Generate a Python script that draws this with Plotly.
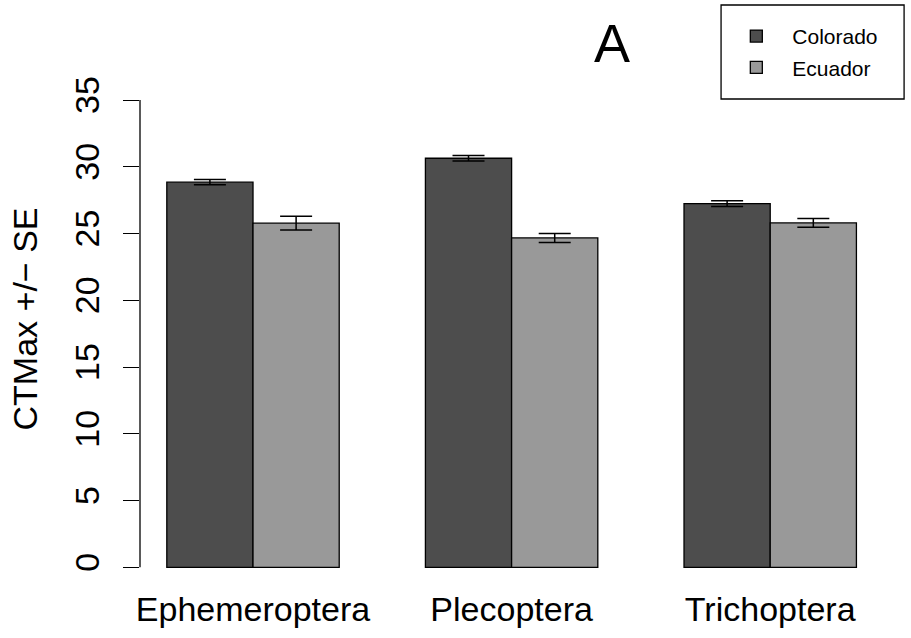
import plotly.graph_objects as go

# Critical thermal maximum by insect order and region
orders = ["Ephemeroptera", "Plecoptera", "Trichoptera"]
colorado_mean = [28.85, 30.64, 27.24]
colorado_se = [0.20, 0.21, 0.21]
ecuador_mean = [25.78, 24.67, 25.80]
ecuador_se = [0.52, 0.34, 0.33]
y_ticks = [0, 5, 10, 15, 20, 25, 30, 35]

FONT = "Liberation Sans, Arial, Helvetica, sans-serif"

fig = go.Figure()
fig.add_trace(go.Bar(
    name="Colorado", x=orders, y=colorado_mean, legendgroup="co",
    marker=dict(color="#4d4d4d", line=dict(color="black", width=1.3)),
    error_y=dict(type="data", array=colorado_se, color="black", thickness=1.5, width=16),
))
fig.add_trace(go.Bar(
    name="Ecuador", x=orders, y=ecuador_mean, legendgroup="ec",
    marker=dict(color="#999999", line=dict(color="black", width=1.3)),
    error_y=dict(type="data", array=ecuador_se, color="black", thickness=1.5, width=16),
))

fig.update_layout(
    width=911, height=638,
    margin=dict(l=140, r=27, t=52, b=52, autoexpand=False),
    paper_bgcolor="white", plot_bgcolor="rgba(0,0,0,0)",
    barmode="group", bargap=1/3, bargroupgap=0,
    font=dict(family=FONT, color="black", size=34),
    showlegend=True,
    legend=dict(
        x=0.7800, y=1.0675, xanchor="left", yanchor="top",
        borderwidth=0, bgcolor="rgba(0,0,0,0)",
        itemwidth=62, tracegroupgap=1,
        font=dict(size=21, family=FONT),
    ),
    xaxis=dict(
        range=[-0.437, 2.44], showline=False, showgrid=False, zeroline=False,
        ticks="", tickfont=dict(size=34), automargin=False,
    ),
    yaxis=dict(
        range=[-1.4, 38.6], showline=False, showgrid=False, zeroline=False,
        tickmode="array", tickvals=y_ticks, ticktext=[str(v) for v in y_ticks],
        ticks="outside", ticklen=16, tickwidth=1.3, tickcolor="black",
        tickangle=-90, tickfont=dict(size=34), ticklabelstandoff=10,
        title=dict(text="CTMax +/\u2212 SE", font=dict(size=34), standoff=20),
        automargin=False,
    ),
    annotations=[dict(
        text="A", xref="paper", yref="paper", x=0.634, y=1.017,
        xanchor="center", yanchor="middle", showarrow=False,
        font=dict(size=54, family=FONT),
    )],
    shapes=[
        # y axis line spanning only the labelled range
        dict(type="line", xref="paper", yref="y", x0=0, x1=0, y0=0, y1=35,
             line=dict(color="black", width=1.3)),
        # legend frame
        dict(type="rect", xref="paper", yref="paper",
             x0=0.781, x1=1.027, y0=0.912, y1=1.088,
             line=dict(color="black", width=1.3), fillcolor="rgba(0,0,0,0)"),
    ],
)

fig.write_html("out.html")
